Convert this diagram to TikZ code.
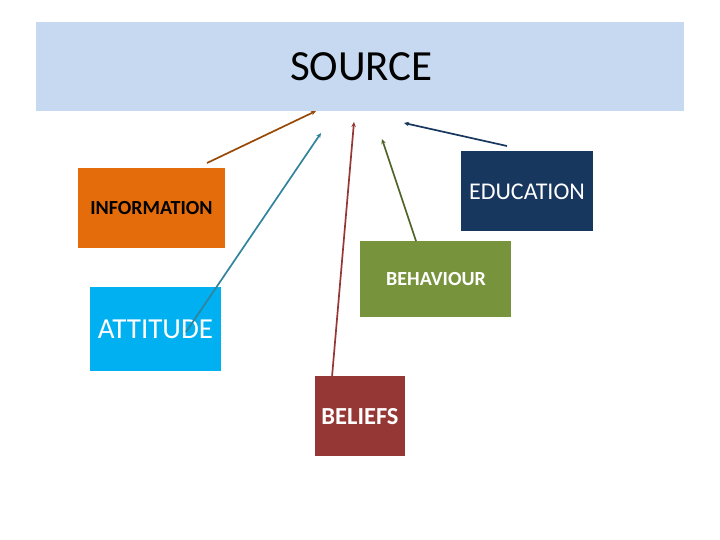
\documentclass[tikz,border=0pt]{standalone}
\usepackage{fontspec}
\setmainfont{Carlito}
\usetikzlibrary{arrows.meta}
\definecolor{srcblue}{HTML}{C6D9F1}
\definecolor{infoorange}{HTML}{E46C0A}
\definecolor{edunavy}{HTML}{17375E}
\definecolor{behgreen}{HTML}{77933C}
\definecolor{attblue}{HTML}{00B0F0}
\definecolor{belred}{HTML}{953735}
\definecolor{arbrown}{HTML}{984807}
\definecolor{arteal}{HTML}{31849B}
\definecolor{arred}{HTML}{953735}
\definecolor{arolive}{HTML}{4F6228}
\definecolor{arnavy}{HTML}{17375E}
\begin{document}
\begin{tikzpicture}[x=1pt,y=-1pt,
  conn/.style={line width=1.7pt,-{Stealth[length=5pt,width=4.5pt]}}]
\useasboundingbox (0,0) rectangle (720,540);
% source band
\fill[srcblue] (36,22) rectangle (684,111);
\node[font=\fontsize{43}{43}\selectfont,text=black] (src) at (361.5,67) {SOURCE};
% boxes
\fill[infoorange] (78,168) rectangle (225,248);
\node[font=\fontsize{20}{20}\selectfont\bfseries,text=black] (info) at (151.5,208) {INFORMATION};
\fill[edunavy] (461,151) rectangle (593,231);
\node[font=\fontsize{24}{24}\selectfont,text=white] (edu) at (527,192) {EDUCATION};
\fill[behgreen] (360,241) rectangle (511,317);
\node[font=\fontsize{20}{20}\selectfont\bfseries,text=white] (beh) at (436,279) {BEHAVIOUR};
\fill[attblue] (90,287) rectangle (221,371);
\node[font=\fontsize{29}{29}\selectfont,text=white] (att) at (155.5,329) {ATTITUDE};
\fill[belred] (315,376) rectangle (405,456);
\node[font=\fontsize{24.5}{24.5}\selectfont\bfseries,text=white] (bel) at (360,417) {BELIEFS};
% connector endpoints
\coordinate (t1) at (207,163); \coordinate (h1) at (316,111);
\coordinate (t2) at (186,332); \coordinate (h2) at (321,133);
\coordinate (t3) at (332,377); \coordinate (h3) at (354,122);
\coordinate (t4) at (416,241); \coordinate (h4) at (382,139);
\coordinate (t5) at (507,146); \coordinate (h5) at (404,123);
\draw[conn,arbrown] (t1) -- (h1);
\draw[conn,arteal] (t2) -- (h2);
\draw[conn,arred] (t3) -- (h3);
\draw[conn,arolive] (t4) -- (h4);
\draw[conn,arnavy] (t5) -- (h5);
\end{tikzpicture}
\end{document}
